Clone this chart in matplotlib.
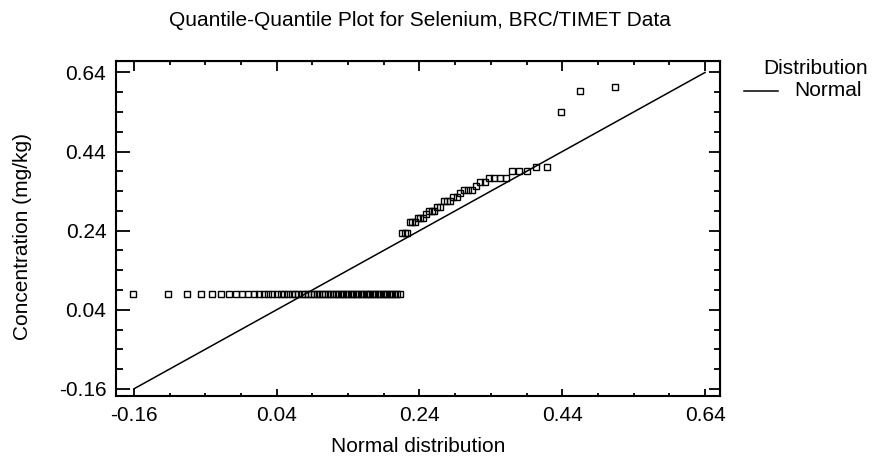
import matplotlib
matplotlib.use('Agg')
import matplotlib.pyplot as plt
from matplotlib.lines import Line2D
from statistics import NormalDist

plt.rcParams['font.family'] = ['Liberation Sans', 'DejaVu Sans']

# sorted selenium concentrations (mg/kg)
n_low = 61
low_value = 0.08
upper_values = [0.234, 0.234, 0.234, 0.263, 0.263, 0.263, 0.272, 0.272, 0.272,
                0.283, 0.291, 0.291, 0.291, 0.301, 0.301, 0.314, 0.314, 0.314,
                0.325, 0.325, 0.335, 0.343, 0.343, 0.343, 0.354, 0.363, 0.363,
                0.373, 0.373, 0.373, 0.373, 0.392, 0.392, 0.392, 0.402, 0.402,
                0.540, 0.593, 0.603]
conc = [low_value] * n_low + upper_values

# fitted normal
mu = 0.1765
sigma = 0.135
line_x = [-0.16, 0.64]

# theoretical quantiles (Blom plotting positions)
n = len(conc)
nd = NormalDist(mu, sigma)
qx = [nd.inv_cdf((i - 0.375) / (n + 0.25)) for i in range(1, n + 1)]

W, H = 877, 466
fig = plt.figure(figsize=(W / 100, H / 100), dpi=100)
ax = fig.add_axes([116 / W, 1 - 396 / H, 604 / W, 335 / H])

ax.plot(line_x, line_x, color='black', lw=1.1)
ax.plot(qx, conc, linestyle='none', marker='s', markersize=4,
        mfc='none', mec='black', mew=1.0)

ax.set_xlim(-0.185, 0.661)
ax.set_ylim(-0.178, 0.669)

major = [-0.16, 0.04, 0.24, 0.44, 0.64]
minor = [-0.16 + 0.05 * k for k in range(17)]
ax.set_xticks(major)
ax.set_yticks(major)
ax.set_xticks(minor, minor=True)
ax.set_yticks(minor, minor=True)
ax.set_xticklabels(['-0.16', '0.04', '0.24', '0.44', '0.64'])
ax.set_yticklabels(['-0.16', '0.04', '0.24', '0.44', '0.64'])

for s in ax.spines.values():
    s.set_linewidth(1.5)

ax.tick_params(axis='x', which='major', direction='in', length=5, width=1.3, pad=7, labelsize=15)
ax.tick_params(axis='x', which='minor', direction='in', length=2.5, width=1.3)
ax.tick_params(axis='y', which='major', direction='in', length=10, width=1.3, pad=7, labelsize=15)
ax.tick_params(axis='y', which='minor', direction='in', length=5, width=1.3)

# top and right ticks
top = ax.secondary_xaxis('top')
top.set_xticks(major)
top.set_xticks(minor, minor=True)
top.tick_params(which='major', direction='in', length=7, width=1.3, labeltop=False)
top.tick_params(which='minor', direction='in', length=3, width=1.3)
right = ax.secondary_yaxis('right')
right.set_yticks(major)
right.set_yticks(minor, minor=True)
right.tick_params(which='major', direction='in', length=8, width=1.3, labelright=False)
right.tick_params(which='minor', direction='in', length=4, width=1.3)

fig.text(420 / W, 1 - 21 / H, 'Quantile-Quantile Plot for Selenium, BRC/TIMET Data',
         ha='center', va='center', fontsize=15)
fig.text(418 / W, 1 - 447 / H, 'Normal distribution', ha='center', va='center', fontsize=15)
fig.text(23 / W, 1 - 237 / H, 'Concentration (mg/kg)', rotation=90,
         ha='center', va='center', fontsize=15)

# legend
fig.text(816 / W, 1 - 68 / H, 'Distribution', ha='center', va='center', fontsize=15)
fig.add_artist(Line2D([744 / W, 778 / W], [1 - 91 / H, 1 - 91 / H],
                      transform=fig.transFigure, color='black', lw=1.1))
fig.text(794 / W, 1 - 91 / H, 'Normal', ha='left', va='center', fontsize=15)

fig.savefig('out.png', dpi=100)
